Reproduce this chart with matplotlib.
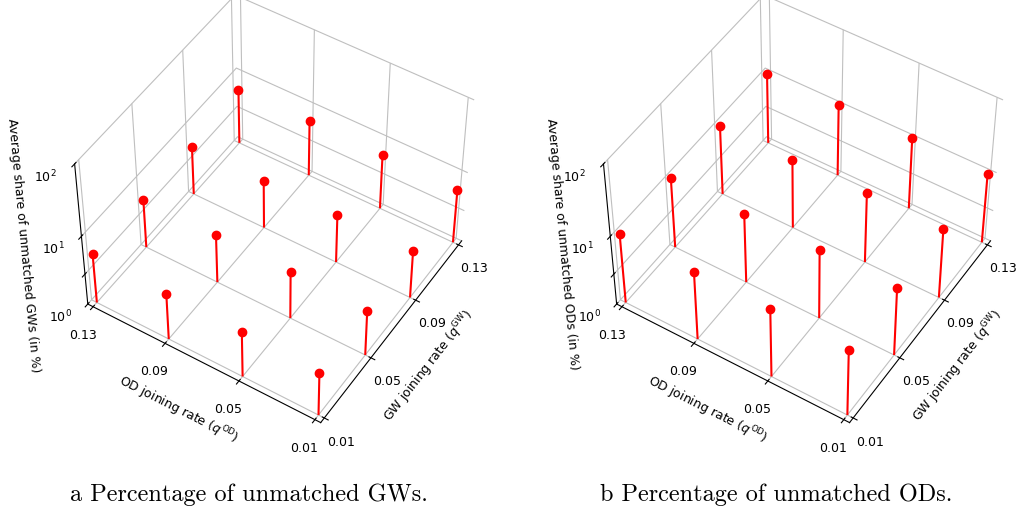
import numpy as np
import matplotlib
matplotlib.use("Agg")
import matplotlib.pyplot as plt

# rates
od_rates = [0.01, 0.05, 0.09, 0.13]
gw_rates = [0.01, 0.05, 0.09, 0.13]
tick_labels = ["0.01", "0.05", "0.09", "0.13"]

# share of unmatched GWs (%) rows: OD rate, cols: GW rate
unmatched_gw = [
    [4.3, 4.6, 4.9, 5.9],
    [4.7, 4.9, 5.0, 6.2],
    [4.7, 5.0, 4.85, 6.2],
    [5.2, 5.0, 4.9, 6.0],
]
# share of unmatched ODs (%)
unmatched_od = [
    [9.4, 9.8, 10.2, 10.2],
    [10.2, 10.2, 10.2, 10.6],
    [10.0, 10.2, 9.8, 10.6],
    [10.35, 10.35, 10.0, 10.2],
]

z_ticks = [0, 0.45, 1, 2]
z_ticklabels = ["$10^0$", "", "$10^1$", "$10^2$"]

fig = plt.figure(figsize=(10.19, 5.16), dpi=100)


def draw(rect, data, zlabel, zpad):
    ax = fig.add_axes(rect, projection="3d")
    gg, oo = np.meshgrid(gw_rates, od_rates)
    z = np.log10(np.array(data, dtype=float))
    ax.stem(gg.ravel(), oo.ravel(), z.ravel(), linefmt="r-", markerfmt="ro",
            basefmt=" ")
    ax.set_xlim(0.007, 0.133)
    ax.set_ylim(0.007, 0.133)
    ax.set_zlim(0, 2)
    ax.set_xticks(gw_rates)
    ax.set_xticklabels(tick_labels, fontsize=9)
    ax.set_yticks(od_rates)
    ax.set_yticklabels(tick_labels, fontsize=9)
    ax.set_zticks(z_ticks)
    ax.set_zticklabels(z_ticklabels, fontsize=9)
    ax.set_xlabel(r"GW joining rate ($q^{\mathrm{GW}}$)", fontsize=9)
    ax.set_ylabel(r"OD joining rate ($q^{\mathrm{OD}}$)", fontsize=9)
    ax.set_zlabel(zlabel, fontsize=9, labelpad=zpad)
    for axis in (ax.xaxis, ax.yaxis, ax.zaxis):
        axis.set_pane_color((1, 1, 1, 0))
        axis.pane.set_edgecolor((0.88, 0.88, 0.88))
        axis._axinfo["grid"]["color"] = (0.75, 0.75, 0.75, 1)
        axis._axinfo["grid"]["linewidth"] = 0.8
    ax.view_init(elev=48, azim=-147.5)
    return ax


draw([0.0376, 0.1718, 0.4568, 0.8425], unmatched_gw,
     "Average share of unmatched GWs (in %)", 3)
draw([0.5566, 0.1718, 0.4568, 0.8425], unmatched_od,
     "Average share of unmatched ODs (in %)", -1.2)

fig.text(0.2439, 0.029, "a Percentage of unmatched GWs.", fontfamily="cmr10",
         fontsize=17.5, ha="center", va="baseline")
fig.text(0.7615, 0.029, "b Percentage of unmatched ODs.", fontfamily="cmr10",
         fontsize=17.5, ha="center", va="baseline")

fig.savefig("out.png", dpi=100)
